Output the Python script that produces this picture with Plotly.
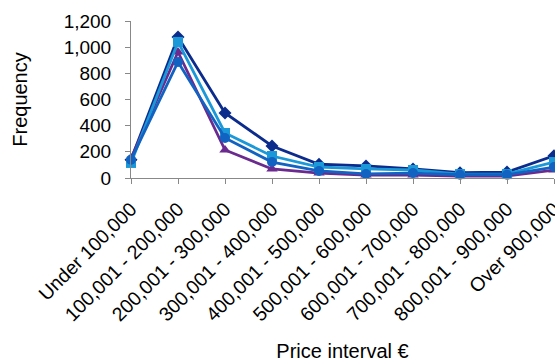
import plotly.graph_objects as go

categories = ["Under 100,000", "100,001 - 200,000", "200,001 - 300,000", "300,001 - 400,000",
              "400,001 - 500,000", "500,001 - 600,000", "600,001 - 700,000", "700,001 - 800,000",
              "800,001 - 900,000", "Over 900,000"]

series_navy = [140, 1078, 497, 245, 105, 92, 69, 40, 45, 170]
series_light = [115, 1040, 344, 168, 84, 69, 61, 30, 30, 122]
series_purple = [150, 963, 214, 69, 38, 23, 23, 15, 15, 61]
series_mid = [140, 887, 306, 122, 54, 31, 38, 25, 25, 84]

y_ticks = [0, 200, 400, 600, 800, 1000, 1200]
y_tick_labels = ["0", "200", "400", "600", "800", "1,000", "1,200"]

fig = go.Figure()

def add(vals, color, symbol, size):
    fig.add_trace(go.Scatter(
        x=list(range(len(categories))), y=vals, mode="lines+markers",
        line=dict(color=color, width=2.8),
        marker=dict(color=color, symbol=symbol, size=size),
        cliponaxis=False, showlegend=False))

add(series_navy, "#0B2C8C", "diamond", 10)
add(series_purple, "#6A2A8E", "triangle-up", 10)
add(series_light, "#1A98D8", "square", 10)
add(series_mid, "#1262C2", "circle", 10)

fig.update_layout(
    width=555, height=362,
    margin=dict(l=131, r=1, t=21, b=184, autoexpand=False),
    paper_bgcolor="white", plot_bgcolor="white",
    font=dict(family="Liberation Sans, Arial", size=19, color="black"),
    showlegend=False,
)
fig.update_xaxes(
    range=[0, 9], tickmode="array", tickvals=list(range(len(categories))), ticktext=categories,
    tickangle=-45, showgrid=False, zeroline=False, automargin=False,
    ticklabeloverflow="allow", ticklabelstandoff=6,
    showline=True, linecolor="#888888", linewidth=1,
    ticks="outside", ticklen=5, tickcolor="#888888",
    tickfont=dict(size=19.5),
    title=dict(text="Price interval €", font=dict(size=20), standoff=37),
)
fig.update_yaxes(
    range=[0, 1200], tickmode="array", tickvals=y_ticks, ticktext=y_tick_labels,
    showgrid=False, zeroline=False, automargin=False,
    showline=True, linecolor="#888888", linewidth=1,
    ticks="outside", ticklen=5, tickcolor="#888888",
    tickfont=dict(size=19), ticklabelstandoff=10,
    title=dict(text="Frequency", font=dict(size=20), standoff=30),
)

fig.write_html("out.html", config={"displayModeBar": False},
               post_script="document.body.style.margin='0';document.body.style.overflow='hidden';")
